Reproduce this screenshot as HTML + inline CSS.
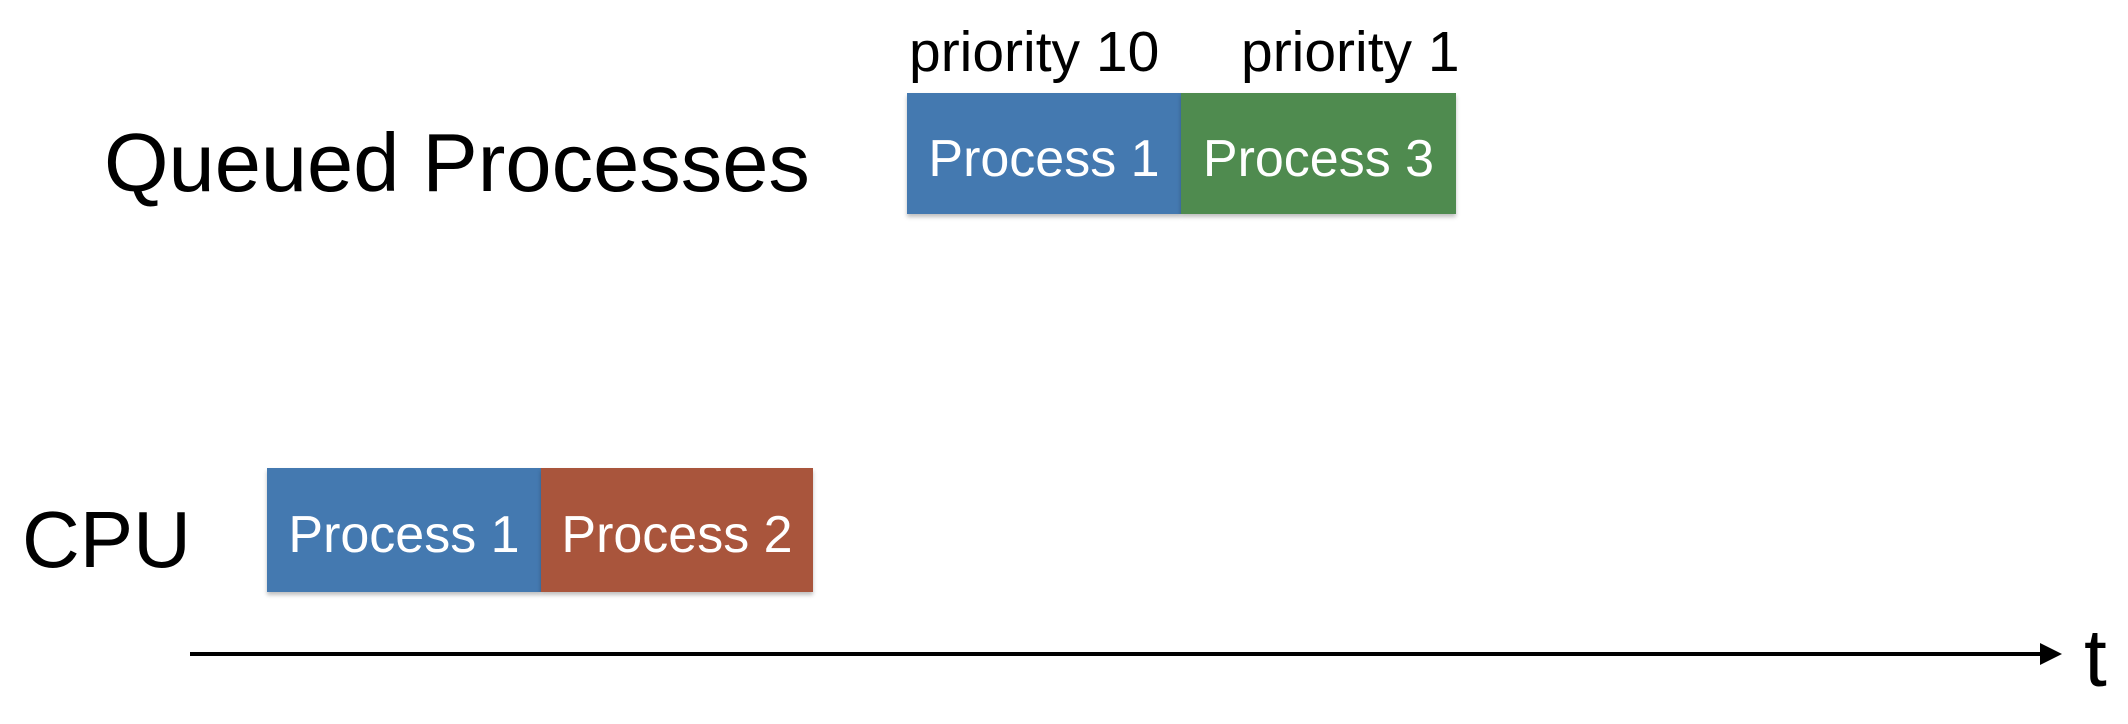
<!DOCTYPE html>
<html><head><style>
html,body{margin:0;padding:0;background:#fff;}
body{width:2128px;height:724px;position:relative;overflow:hidden;font-family:"Liberation Sans",sans-serif;}
.t{position:absolute;white-space:nowrap;color:#000;line-height:1;}
.b{position:absolute;color:#fff;font-size:52px;display:flex;align-items:center;justify-content:center;box-shadow:0 3px 4px rgba(0,0,0,0.25);box-sizing:border-box;padding-top:10px;}
</style></head><body>
<div class="t" style="left:104px;top:121px;font-size:83px;">Queued Processes</div>
<div class="t" style="left:22px;top:500px;font-size:80px;">CPU</div>
<div class="t" style="left:909px;top:24px;font-size:57px;">priority 10</div>
<div class="t" style="left:1241px;top:24px;font-size:57px;">priority 1</div>
<div class="b" style="left:907px;top:93px;width:274px;height:121px;background:#4479b0;">Process 1</div>
<div class="b" style="left:1181px;top:93px;width:275px;height:121px;background:#4f8b4f;">Process 3</div>
<div class="b" style="left:267px;top:468px;width:274px;height:124px;background:#4479b0;">Process 1</div>
<div class="b" style="left:541px;top:468px;width:272px;height:124px;background:#a9553c;">Process 2</div>
<svg style="position:absolute;left:0;top:0" width="2128" height="724">
<line x1="190" y1="654" x2="2045" y2="654" stroke="#000" stroke-width="4"/>
<polygon points="2040,643 2062,654 2040,665" fill="#000"/>
</svg>
<div class="t" style="left:2084px;top:618px;font-size:82px;">t</div>
</body></html>
